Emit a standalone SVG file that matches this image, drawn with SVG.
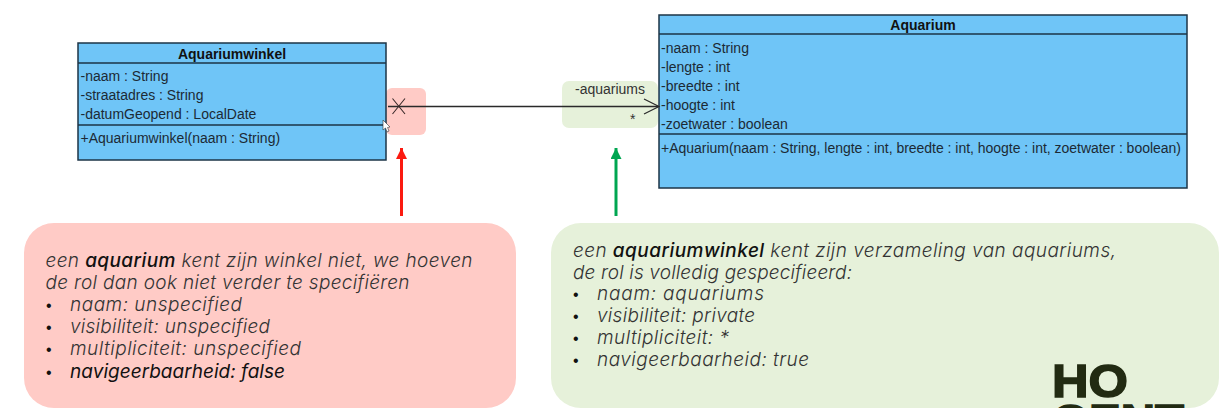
<svg xmlns="http://www.w3.org/2000/svg" width="1219" height="408" viewBox="0 0 1219 408">
<style>
.box{fill:#6fc5f7;stroke:#1d3547;stroke-width:1.5}
.div{stroke:#1d3547;stroke-width:1.5;fill:none}
.t{font:14px "Liberation Sans",Arial,sans-serif;fill:#1c2a35}
.h{font:bold 14px "Liberation Sans",Arial,sans-serif;fill:#111;text-anchor:middle}
.a{font:14px "Liberation Sans",Arial,sans-serif;fill:#333}
.n{font:italic 300 19px Inter,"Open Sans",sans-serif;fill:#333}
.d{font:16px "Liberation Sans",Arial,sans-serif;fill:#111}
.b{font-weight:500;fill:#111}
.logo{font:bold 46px "Liberation Sans",Arial,sans-serif;fill:#222b12;stroke:#222b12;stroke-width:1.500}
</style>
<defs>
<marker id="ra" markerUnits="userSpaceOnUse" markerWidth="11" markerHeight="11" refX="11" refY="5.500" orient="auto" viewBox="0 0 11 11"><path d="M0 0L11 5.500 0 11z" fill="#fb1a10"/></marker>
<marker id="ga" markerUnits="userSpaceOnUse" markerWidth="11" markerHeight="11" refX="11" refY="5.500" orient="auto" viewBox="0 0 11 11"><path d="M0 0L11 5.500 0 11z" fill="#00a651"/></marker>
</defs>
<rect width="1219" height="408" fill="#fff"/>
<g id="highlights">
<rect x="386" y="88" width="40" height="47" rx="6" fill="#ffcbc6"/>
<rect x="562" y="81" width="96" height="47" rx="7" fill="#e6f1da"/>
</g>
<g id="aquariumwinkel">
<rect class="box" x="78" y="43" width="308" height="117"/>
<path class="div" d="M78 63H386M78 125H386"/>
<text class="h" x="232" y="59">Aquariumwinkel</text>
<text class="t" x="80.500" y="80.500">-naam : String</text>
<text class="t" x="80.500" y="99.500">-straatadres : String</text>
<text class="t" x="80.500" y="118.500">-datumGeopend : LocalDate</text>
<text class="t" x="80.500" y="143">+Aquariumwinkel(naam : String)</text>
</g>
<g id="aquarium">
<rect class="box" x="659" y="15" width="528" height="173"/>
<path class="div" d="M659 34H1187M659 134H1187"/>
<text class="h" x="923" y="30">Aquarium</text>
<text class="t" x="661" y="52.500">-naam : String</text>
<text class="t" x="661" y="71.500">-lengte : int</text>
<text class="t" x="661" y="90.500">-breedte : int</text>
<text class="t" x="661" y="109.500">-hoogte : int</text>
<text class="t" x="661" y="128.500">-zoetwater : boolean</text>
<text class="t" x="661" y="153" textLength="520">+Aquarium(naam : String, lengte : int, breedte : int, hoogte : int, zoetwater : boolean)</text>
</g>
<g id="connectors">
<path d="M388 106.500H658" fill="none" stroke="#2a2a2a" stroke-width="1.300"/>
<path d="M392.500 98.500L405 114M405 98.500L392.500 114" fill="none" stroke="#3b2a2a" stroke-width="1.100"/>
<path d="M644 99L659 106.500 644 114" fill="none" stroke="#2a2a2a" stroke-width="1.200"/>
<path d="M401.500 216V148" fill="none" stroke="#fb1a10" stroke-width="3" marker-end="url(#ra)"/>
<path d="M616 216V148" fill="none" stroke="#00a651" stroke-width="3" marker-end="url(#ga)"/>
<text class="a" x="575" y="93.500">-aquariums</text>
<text class="a" x="630" y="124">*</text>
</g>
<g id="cursor"><path d="M383 120V130L385.500 128 387 132 389 131 387.500 127.500 390 127z" fill="#fff" stroke="#333" stroke-width=".6"/></g>
<g id="note-red">
<rect x="24" y="223" width="492" height="185" rx="30" fill="#ffcbc6"/>
<text class="n" x="45.500" y="267" textLength="427">een <tspan class="b">aquarium</tspan> kent zijn winkel niet, we hoeven</text>
<text class="n" x="45.500" y="289" textLength="364">de rol dan ook niet verder te specifiëren</text>
<text class="d" x="46" y="311">•</text><text class="n" x="70" y="311" textLength="172">naam: unspecified</text>
<text class="d" x="46" y="333">•</text><text class="n" x="70" y="333" textLength="200">visibiliteit: unspecified</text>
<text class="d" x="46" y="355">•</text><text class="n" x="70" y="355" textLength="231">multipliciteit: unspecified</text>
<text class="d" x="46" y="378">•</text><text class="n" x="70" y="378" textLength="215" style="fill:#111;font-weight:400">navigeerbaarheid: false</text>
</g>
<g id="note-green">
<rect x="551" y="223" width="668" height="185" rx="30" fill="#e6f1da"/>
<text class="n" x="573" y="257" textLength="543">een <tspan class="b">aquariumwinkel</tspan> kent zijn verzameling van aquariums,</text>
<text class="n" x="573" y="279" textLength="279">de rol is volledig gespecifieerd:</text>
<text class="d" x="573" y="300">•</text><text class="n" x="597" y="300" textLength="167">naam: aquariums</text>
<text class="d" x="573" y="322">•</text><text class="n" x="597" y="322" textLength="158">visibiliteit: private</text>
<text class="d" x="573" y="344">•</text><text class="n" x="597" y="344" textLength="132">multipliciteit: *</text>
<text class="d" x="573" y="366">•</text><text class="n" x="597" y="366" textLength="212">navigeerbaarheid: true</text>
</g>
<g id="logo">
<text class="logo" x="1052" y="396.500" textLength="76" lengthAdjust="spacingAndGlyphs">HO</text>
<text class="logo" x="1052" y="437" textLength="132" lengthAdjust="spacingAndGlyphs">GENT</text>
</g>
</svg>
